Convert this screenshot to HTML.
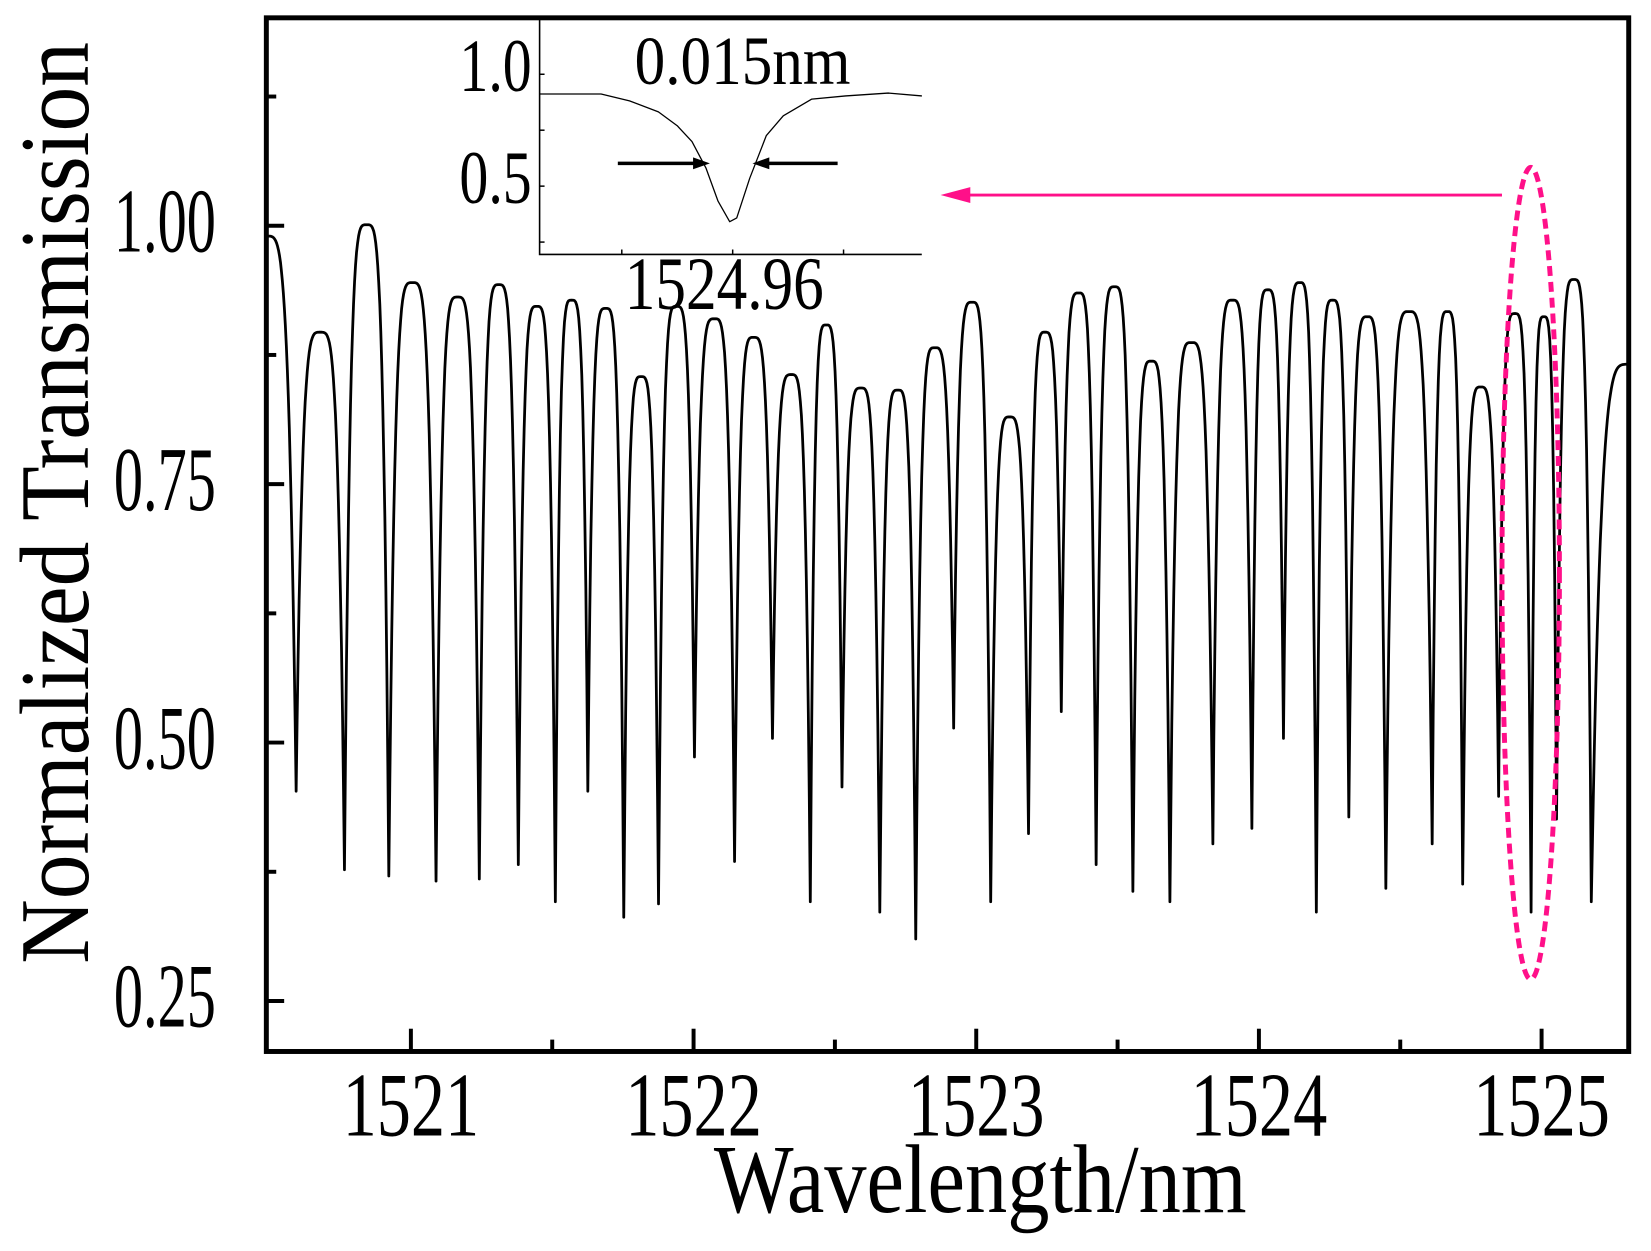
<!DOCTYPE html>
<html><head><meta charset="utf-8"><style>
html,body{margin:0;padding:0;background:#fff}
svg{display:block}
text{font-family:"Liberation Serif","DejaVu Serif",serif;fill:#000}
</style></head><body>
<svg id="chart" width="1651" height="1251" viewBox="0 0 1651 1251" xmlns="http://www.w3.org/2000/svg">
<rect width="1651" height="1251" fill="#fff"/>
<g transform="scale(0.9901)">
<g id="main"></g>
<g id="inset"></g>
<g id="annot"></g>
</g>
</svg>
<script>
// ---- main spectrum data ----
const startPoint = [1520.49, 0.99];
const endPoint = [1525.307, 0.866];
const dipWl = [1520.594,1520.765,1520.922,1521.089,1521.242,1521.380,1521.511,1521.626,1521.753,1521.876,1522.003,1522.145,1522.279,1522.413,1522.525,1522.659,1522.786,1522.920,1523.051,1523.185,1523.301,1523.424,1523.554,1523.685,1523.837,1523.975,1524.087,1524.203,1524.318,1524.449,1524.613,1524.721,1524.848,1524.963,1525.053,1525.176];
const dipVal = [0.453,0.377,0.371,0.366,0.368,0.382,0.346,0.453,0.331,0.344,0.486,0.385,0.504,0.346,0.457,0.336,0.310,0.514,0.346,0.412,0.530,0.382,0.356,0.346,0.402,0.417,0.504,0.336,0.428,0.359,0.402,0.363,0.448,0.336,0.426,0.346];
const peakVal = [0.897,1.001,0.945,0.931,0.943,0.922,0.928,0.920,0.854,0.922,0.910,0.892,0.856,0.904,0.843,0.841,0.882,0.926,0.815,0.897,0.935,0.941,0.869,0.887,0.928,0.938,0.945,0.928,0.912,0.917,0.917,0.844,0.915,0.912,0.948];
const xTicks = [1521,1522,1523,1524,1525];
const xMinor = [1521.5,1522.5,1523.5,1524.5];
const yTicks = [0.25,0.50,0.75,1.00];
const yTickLabels = ["0.25","0.50","0.75","1.00"];
const yMinor = [0.375,0.625,0.875,1.125];
// ---- inset data ----
const insetWl = [1524.9078,1524.9244,1524.9321,1524.9399,1524.9450,1524.9490,1524.9528,1524.9560,1524.9592,1524.9611,1524.9646,1524.9691,1524.9737,1524.9814,1524.9905,1525.0021,1525.0112];
const insetVal = [0.912,0.912,0.881,0.832,0.770,0.699,0.580,0.434,0.341,0.358,0.535,0.726,0.814,0.889,0.903,0.916,0.903];
const insetYTicks = [0.25,0.5,0.75,1.0];
const insetYLabels = {"0.5":"0.5","1":"1.0"};
const insetXTicks = [1524.93,1524.96,1524.99];

const NS="http://www.w3.org/2000/svg";
function mk(tag,attrs,parent){const e=document.createElementNS(NS,tag);for(const k in attrs)e.setAttribute(k,attrs[k]);parent.appendChild(e);return e;}

const L=269,R=1645,T=18,B=1062;
const X=w=>415+(w-1521)*285.5;
const Y=v=>228+(1-v)*1044;
const main=document.getElementById('main');

const nodes=[startPoint];
for(let i=0;i<dipWl.length;i++){
  nodes.push([dipWl[i],dipVal[i],'d']);
  if(i<peakVal.length) nodes.push([(dipWl[i]+dipWl[i+1])/2,peakVal[i],'p']);
}
nodes.push(endPoint);
let d='M'+X(nodes[0][0]).toFixed(1)+','+Y(nodes[0][1]).toFixed(1);
for(let i=0;i<nodes.length-1;i++){
  const a=nodes[i],b=nodes[i+1];
  const dip=(a[2]==='d')?a:b, hi=(a[2]==='d')?b:a;
  const x0=X(a[0]),x1=X(b[0]);const n=Math.max(6,Math.round(Math.abs(x1-x0)));
  for(let k=1;k<=n;k++){
    const t=k/n;const w=a[0]+(b[0]-a[0])*t;
    let u=Math.abs(w-dip[0])/Math.abs(hi[0]-dip[0]);
    const g=1-Math.pow(1-u,4);
    const v=dip[1]+(hi[1]-dip[1])*g;
    d+='L'+X(w).toFixed(1)+','+Y(v).toFixed(1);
  }
}
const curve=mk('path',{d:d,fill:'none',stroke:'#000','stroke-width':2.8,'stroke-linejoin':'round'},main);



const frame=mk('rect',{x:L,y:T,width:R-L,height:B-T,fill:'none',stroke:'#000','stroke-width':5},main);



xTicks.forEach(w=>{
  const t=mk('line',{x1:X(w),x2:X(w),y1:B,y2:B-23,stroke:'#000','stroke-width':4},main);
  
  
  const lb=mk('text',{x:X(w),y:1147,'font-size':92,'text-anchor':'middle',textLength:138,lengthAdjust:'spacingAndGlyphs'},main);
  lb.textContent=String(w);
  
  
});
xMinor.forEach(w=>{
  const t=mk('line',{x1:X(w),x2:X(w),y1:B,y2:B-12,stroke:'#000','stroke-width':4},main);
  
  
});
yTicks.forEach((v,i)=>{
  const t=mk('line',{x1:L,x2:L+18,y1:Y(v),y2:Y(v),stroke:'#000','stroke-width':4},main);
  
  
  const lb=mk('text',{x:115,y:Y(v)+26,'font-size':92,textLength:103,lengthAdjust:'spacingAndGlyphs'},main);
  lb.textContent=yTickLabels[i];
  
  
});
yMinor.forEach(v=>{
  const t=mk('line',{x1:L,x2:L+10,y1:Y(v),y2:Y(v),stroke:'#000','stroke-width':4},main);
  
  
});
const xt=mk('text',{x:990,y:1224,'font-size':98,'text-anchor':'middle',textLength:538,lengthAdjust:'spacingAndGlyphs'},main);
xt.textContent='Wavelength/nm';


const yt=mk('text',{x:0,y:0,'font-size':100,'text-anchor':'middle',textLength:931,lengthAdjust:'spacingAndGlyphs',transform:'translate(89,508) rotate(-90)'},main);
yt.textContent='Normalized Transmission';



const inset=document.getElementById('inset');
const IL=545,IR=931,IB=257;
const IX=w=>740+(w-1524.96)*3733;
const IY=v=>75+(1-v)*226;
const ipts=insetWl.map((w,i)=>IX(w).toFixed(1)+','+IY(insetVal[i]).toFixed(1)).join(' ');
const ic=mk('polyline',{points:ipts,fill:'none',stroke:'#000','stroke-width':1.3,'stroke-linejoin':'round'},inset);


const iax=mk('path',{d:`M${IL},${T} L${IL},${IB} L${IR},${IB}`,fill:'none',stroke:'#000','stroke-width':1.6},inset);


insetYTicks.forEach(v=>{
  const t=mk('line',{x1:IL,x2:IL+5,y1:IY(v),y2:IY(v),stroke:'#000','stroke-width':1.5},inset);
  
  
  if(insetYLabels[String(v)]){
    const lb=mk('text',{x:464,y:IY(v)+17,'font-size':76,textLength:73,lengthAdjust:'spacingAndGlyphs'},inset);
    lb.textContent=insetYLabels[String(v)];
    
    
  }
});
insetXTicks.forEach(w=>{
  const t=mk('line',{x1:IX(w),x2:IX(w),y1:IB,y2:IB-5,stroke:'#000','stroke-width':1.5},inset);
  
  
});
const ixl=mk('text',{x:631,y:312,'font-size':76,textLength:201,lengthAdjust:'spacingAndGlyphs'},inset);
ixl.textContent='1524.96';


const fw=mk('text',{x:641,y:85,'font-size':70,textLength:218,lengthAdjust:'spacingAndGlyphs'},inset);
fw.textContent='0.015nm';


const a1=mk('path',{d:'M624,165 L703,165',stroke:'#000','stroke-width':3.5,fill:'none'},inset);


const h1=mk('polygon',{points:'717,165 700,159 700,171',fill:'#000'},inset);


const a2=mk('path',{d:'M774,165 L846,165',stroke:'#000','stroke-width':3.5,fill:'none'},inset);


const h2=mk('polygon',{points:'760,165 777,159 777,171',fill:'#000'},inset);



const annot=document.getElementById('annot');
const pa=mk('line',{x1:975,x2:1517,y1:197,y2:197,stroke:'#ff1089','stroke-width':3},annot);


const ph=mk('polygon',{points:'950,197 980,189 980,205',fill:'#ff1089'},annot);


const el=mk('ellipse',{cx:1546,cy:579,rx:29,ry:410,fill:'none',stroke:'#ff1089','stroke-width':5,'stroke-dasharray':'10 6'},annot);


</script>
</body></html>
